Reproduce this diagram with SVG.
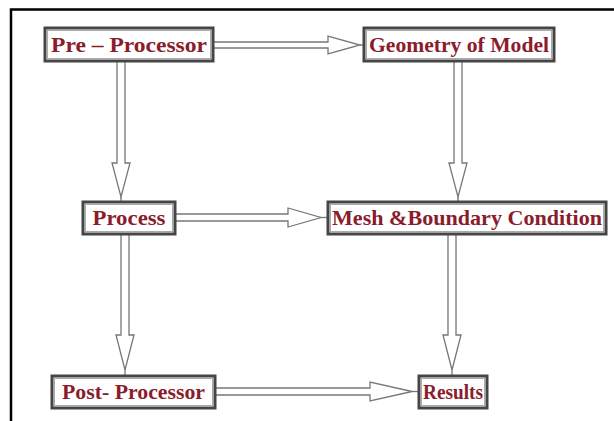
<svg xmlns="http://www.w3.org/2000/svg" width="614" height="421" viewBox="0 0 614 421">
<style>
.box{fill:#fff;stroke:#454545;stroke-width:3}
.inner{fill:none;stroke:#aaa;stroke-width:1}
.lbl{font-family:"Liberation Serif","Times New Roman",serif;font-weight:bold;font-size:21px;fill:#8a1c2c;text-anchor:middle}
.arr{fill:#fff;stroke:#777;stroke-width:1.3;stroke-linejoin:miter}
.stub{stroke:#777;stroke-width:1.3;fill:none}
</style>
<rect width="614" height="421" fill="#fff"/>
<path d="M11,421 V9.5 H614" fill="none" stroke="#000" stroke-width="2.5"/>
<g id="connectors">
<path class="arr" d="M213,42 H328 V36 L360,45 L328,54 V48 H213"/>
<path class="stub" d="M360,45 H364"/>
<path class="arr" d="M175,214 H288 V208 L321,217.5 L288,227 V221 H175"/>
<path class="stub" d="M321,217.5 H328"/>
<path class="arr" d="M215,388 H370 V382 L412,391.5 L370,401 V395 H215"/>
<path class="stub" d="M412,391.5 H419"/>
<path class="arr" d="M117,61 V163 H112 L121,197 L130,163 H125 V61"/>
<path class="stub" d="M121,197 V202"/>
<path class="arr" d="M454,61 V163 H449 L458,197 L467,163 H462 V61"/>
<path class="stub" d="M458,197 V202"/>
<path class="arr" d="M121,234 V335 H116 L125,370 L134,335 H129 V234"/>
<path class="stub" d="M125,370 V376"/>
<path class="arr" d="M448,234 V335 H443 L452,370 L461,335 H456 V234"/>
<path class="stub" d="M452,370 V376"/>
</g>
<g id="pre">
<rect class="box" x="45" y="28" width="168" height="33"/>
<rect class="inner" x="47.5" y="30.5" width="163" height="28"/>
<text class="lbl" x="129" y="51.5" textLength="156" lengthAdjust="spacingAndGlyphs">Pre – Processor</text>
</g>
<g id="geometry">
<rect class="box" x="364" y="28" width="190" height="33"/>
<rect class="inner" x="366.5" y="30.5" width="185" height="28"/>
<text class="lbl" x="459" y="51.5" textLength="180" lengthAdjust="spacingAndGlyphs">Geometry of Model</text>
</g>
<g id="process">
<rect class="box" x="83" y="202" width="92" height="32"/>
<rect class="inner" x="85.5" y="204.5" width="87" height="27"/>
<text class="lbl" x="129" y="225" textLength="73" lengthAdjust="spacingAndGlyphs">Process</text>
</g>
<g id="mesh">
<rect class="box" x="328" y="202" width="278" height="32"/>
<rect class="inner" x="330.5" y="204.5" width="273" height="27"/>
<text class="lbl" x="467" y="225" textLength="270" lengthAdjust="spacingAndGlyphs">Mesh &amp;Boundary Condition</text>
</g>
<g id="post">
<rect class="box" x="52" y="376" width="163" height="32"/>
<rect class="inner" x="54.5" y="378.5" width="158" height="27"/>
<text class="lbl" x="133.5" y="399" textLength="143" lengthAdjust="spacingAndGlyphs">Post- Processor</text>
</g>
<g id="results">
<rect class="box" x="419" y="376" width="68" height="32"/>
<rect class="inner" x="421.5" y="378.5" width="63" height="27"/>
<text class="lbl" x="453" y="399" textLength="60" lengthAdjust="spacingAndGlyphs">Results</text>
</g>
</svg>
